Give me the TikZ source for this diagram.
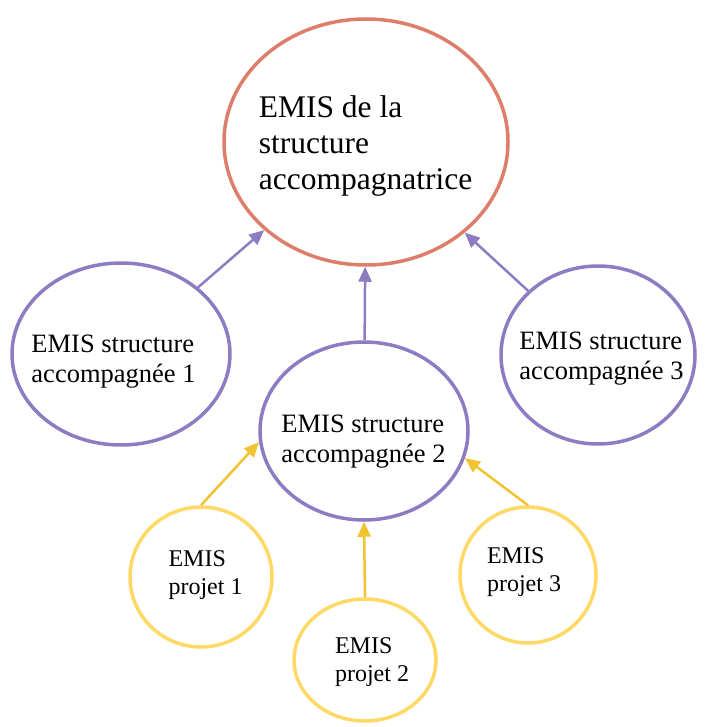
\documentclass[tikz,border=0pt]{standalone}
\usepackage{fontspec}
\setmainfont{Liberation Serif}
\usepackage{tikz}
\usetikzlibrary{arrows.meta,shapes.geometric}
\definecolor{emisred}{HTML}{DD7E6B}
\definecolor{emispurple}{HTML}{8E7CC3}
\definecolor{emisyellow}{HTML}{FFD966}
\definecolor{arrowyellow}{HTML}{F1C232}

\begin{document}
\begin{tikzpicture}[
  x=1pt,y=-1pt,
  every node/.style={inner sep=0pt,align=left},
  hub/.style={ellipse,draw=emisred,line width=3.5pt},
  member/.style={ellipse,draw=emispurple,line width=3.5pt},
  project/.style={ellipse,draw=emisyellow,line width=3.5pt},
  hubtext/.style={font=\fontsize{31.5}{36}\selectfont},
  membertext/.style={font=\fontsize{26.5}{30}\selectfont},
  projecttext/.style={font=\fontsize{24}{28}\selectfont},
  uparrow/.style={-{Triangle[length=15pt,width=13pt]},line width=2.5pt,draw=emispurple},
  projarrow/.style={-{Triangle[length=15pt,width=13pt]},line width=2.5pt,draw=arrowyellow}
]
\useasboundingbox (0,0) rectangle (707,727);
% top level
\node[hub,minimum width=284pt,minimum height=246pt] (top) at (366,142) {};
\node[hubtext] (toptxt) at (365.5,145.5) {EMIS de la\\structure\\accompagnatrice};
% accompanied structures
\node[member,minimum width=218pt,minimum height=182pt] (s1) at (121,354) {};
\node[member,minimum width=208pt,minimum height=178pt] (s2) at (364,431) {};
\node[member,minimum width=194pt,minimum height=178pt] (s3) at (598,355) {};
\node[membertext] (s1txt) at (113.5,362) {EMIS structure\\accompagnée 1};
\node[membertext] (s2txt) at (363.5,442) {EMIS structure\\accompagnée 2};
\node[membertext] (s3txt) at (601.5,359) {EMIS structure\\accompagnée 3};
% projects
\node[project,minimum width=142pt,minimum height=140pt] (p1) at (201,577) {};
\node[project,minimum width=142pt,minimum height=122pt] (p2) at (365,660) {};
\node[project,minimum width=136pt,minimum height=136pt] (p3) at (528,575) {};
\node[projecttext] (p1txt) at (205.5,575.5) {EMIS\\projet 1};
\node[projecttext] (p2txt) at (372,662) {EMIS\\projet 2};
\node[projecttext] (p3txt) at (524,572) {EMIS\\projet 3};
\draw[uparrow] (s1)--(top);
\draw[uparrow] (s2)--(top);
\draw[uparrow] (s3)--(top);
\draw[projarrow] (p1.north)--(s2.186);
\draw[projarrow] (p2.north)--(s2.south);
\draw[projarrow] (p3.north)--(s2.345);
\end{tikzpicture}
\end{document}
